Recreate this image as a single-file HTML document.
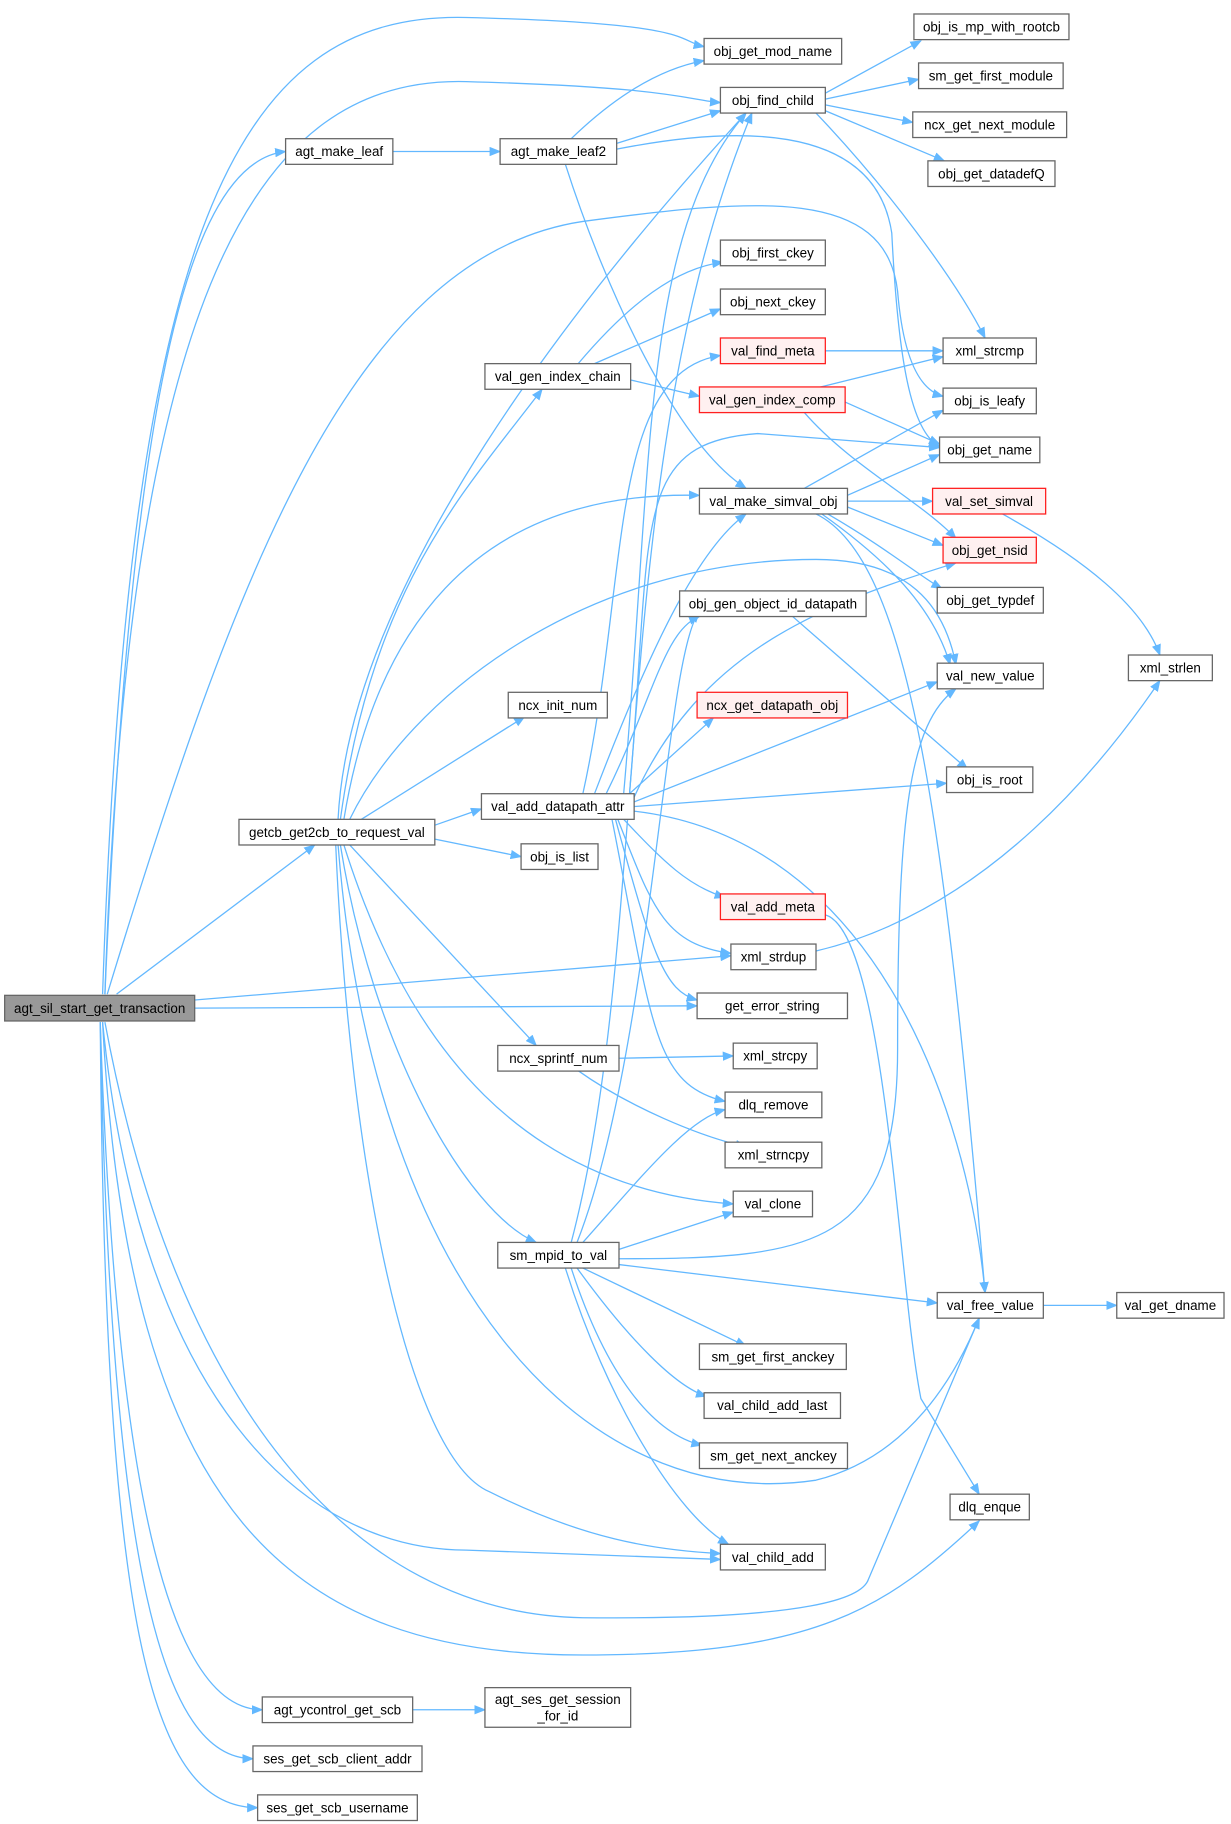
<!DOCTYPE html>
<html><head><meta charset="utf-8"><style>
html,body{margin:0;padding:0;background:#fff;}
svg{display:block;}
text{font-family:"Liberation Sans",Arial,sans-serif;font-size:11.5px;fill:#000;text-anchor:middle;}
.e{fill:none;stroke:#63b8ff;stroke-width:1.1;marker-end:url(#a);}
.n{fill:#fff;stroke:#666;stroke-width:1.1;}
.r{fill:#fff0f0;stroke:#ff2020;stroke-width:1.1;}
.g{fill:#999;stroke:#666;stroke-width:1.1;}
</style></head><body>
<svg width="1231" height="1824" viewBox="0 0 1056 1565" preserveAspectRatio="none">
<defs><marker id="a" markerWidth="10" markerHeight="8" refX="9" refY="4" orient="auto" markerUnits="userSpaceOnUse"><path d="M0,0 L10,4 L0,8 z" fill="#63b8ff"/></marker></defs>
<g>
<path class="e" d="M88,853 C110,200 200,10 400,15 S580,35 604,40"/>
<path class="e" d="M90,853 C110,250 220,65 400,70 S590,86 618,88"/>
<path class="e" d="M90,853 C110,400 150,140 245,130"/>
<path class="e" d="M92,853 C200,500 300,220 500,190 C650,170 760,160 770,250 C775,310 790,335 809,340"/>
<path class="e" d="M100,853 L270,725"/>
<path class="e" d="M167,858 L627,820"/>
<path class="e" d="M167,865 L598,863"/>
<path class="e" d="M90,877 C150,1200 300,1385 500,1388 C700,1390 740,1370 745,1355 L840,1131"/>
<path class="e" d="M88,877 C120,1200 260,1330 400,1330 L618,1338"/>
<path class="e" d="M88,877 C110,1300 250,1420 500,1420 C700,1420 760,1380 840,1305"/>
<path class="e" d="M86,877 C100,1300 150,1467 225,1467"/>
<path class="e" d="M86,877 C95,1350 140,1509 217,1509"/>
<path class="e" d="M86,877 C90,1400 130,1551 221,1551"/>
<path class="e" d="M290,703 C300,500 500,250 640,97"/>
<path class="e" d="M292,703 C320,500 400,420 465,334"/>
<path class="e" d="M295,703 C320,550 400,420 600,425"/>
<path class="e" d="M300,703 C350,600 500,480 700,480 C780,480 810,520 820,570"/>
<path class="e" d="M310,703 L450,615"/>
<path class="e" d="M373,708 L413,694"/>
<path class="e" d="M373,720 L447,735"/>
<path class="e" d="M300,725 L460,897"/>
<path class="e" d="M295,725 C350,900 450,1020 629,1033"/>
<path class="e" d="M292,725 C320,900 400,1040 460,1066"/>
<path class="e" d="M288,725 C300,1000 350,1250 420,1280 C500,1320 560,1330 618,1333"/>
<path class="e" d="M290,725 C320,1100 500,1300 700,1270 C780,1250 820,1180 840,1131"/>
<path class="e" d="M337,130 L429,130"/>
<path class="e" d="M490,119 C520,90 560,60 604,52"/>
<path class="e" d="M529,123 L618,95"/>
<path class="e" d="M529,128 C620,110 750,100 765,200 C770,300 780,370 806,383"/>
<path class="e" d="M485,141 C520,250 580,380 640,419"/>
<path class="e" d="M708,80 L790,35"/>
<path class="e" d="M708,85 L788,68"/>
<path class="e" d="M708,90 L783,105"/>
<path class="e" d="M708,95 L810,138"/>
<path class="e" d="M700,97 C760,160 820,240 845,290"/>
<path class="e" d="M496,312 C540,260 580,230 620,225"/>
<path class="e" d="M510,312 L618,265"/>
<path class="e" d="M541,326 L600,340"/>
<path class="e" d="M708,301 L809,301"/>
<path class="e" d="M700,333 L809,306"/>
<path class="e" d="M725,345 L806,381"/>
<path class="e" d="M690,354 C730,400 790,430 820,462"/>
<path class="e" d="M690,419 L809,352"/>
<path class="e" d="M727,425 L806,390"/>
<path class="e" d="M727,430 L800,430"/>
<path class="e" d="M727,435 L809,468"/>
<path class="e" d="M710,441 C760,470 790,495 808,505"/>
<path class="e" d="M705,441 C760,480 800,520 815,570"/>
<path class="e" d="M700,441 C780,480 810,700 845,1109"/>
<path class="e" d="M860,441 C930,480 980,520 995,562"/>
<path class="e" d="M680,529 L830,660"/>
<path class="e" d="M500,681 C540,500 520,320 618,305"/>
<path class="e" d="M510,681 C560,550 600,470 640,441"/>
<path class="e" d="M520,681 C560,600 570,540 600,529"/>
<path class="e" d="M540,681 L612,616"/>
<path class="e" d="M544,684 C600,560 700,520 820,483"/>
<path class="e" d="M544,688 L804,585"/>
<path class="e" d="M544,692 L812,672"/>
<path class="e" d="M544,696 C750,720 830,950 845,1109"/>
<path class="e" d="M535,703 C570,740 590,760 622,770"/>
<path class="e" d="M530,703 C560,780 570,810 627,818"/>
<path class="e" d="M528,703 C560,820 570,850 598,858"/>
<path class="e" d="M525,703 C560,880 560,930 622,945"/>
<path class="e" d="M535,681 C560,400 550,200 640,97"/>
<path class="e" d="M540,681 C560,450 540,380 650,372 L806,384"/>
<path class="e" d="M700,816 C850,780 950,650 995,584"/>
<path class="e" d="M708,785 C760,800 770,1100 790,1200 L840,1282"/>
<path class="e" d="M531,908 L629,906"/>
<path class="e" d="M495,918 C540,950 600,975 640,984"/>
<path class="e" d="M490,1066 C560,800 520,400 645,97"/>
<path class="e" d="M495,1066 C560,900 570,560 600,525"/>
<path class="e" d="M500,1066 C550,1010 590,960 622,952"/>
<path class="e" d="M531,1072 L629,1040"/>
<path class="e" d="M531,1080 C700,1080 770,1070 770,900 C770,700 780,620 820,591"/>
<path class="e" d="M531,1085 L804,1118"/>
<path class="e" d="M500,1088 L640,1155"/>
<path class="e" d="M495,1088 C540,1150 580,1190 606,1198"/>
<path class="e" d="M490,1088 C520,1180 560,1230 602,1240"/>
<path class="e" d="M485,1088 C520,1200 580,1300 625,1325"/>
<path class="e" d="M895,1120 L958,1120"/>
<path class="e" d="M354,1467 L416,1467"/>
</g>
<g>
<rect class="g" x="4" y="854" width="163" height="22"/><text x="85.5" y="869">agt_sil_start_get_transaction</text>
<rect class="n" x="604" y="33" width="118" height="22"/><text x="663" y="48">obj_get_mod_name</text>
<rect class="n" x="618" y="75" width="90" height="22"/><text x="663" y="90">obj_find_child</text>
<rect class="n" x="784" y="12" width="133" height="22"/><text x="850.5" y="27">obj_is_mp_with_rootcb</text>
<rect class="n" x="788" y="54" width="124" height="22"/><text x="850" y="69">sm_get_first_module</text>
<rect class="n" x="783" y="96" width="132" height="22"/><text x="849" y="111">ncx_get_next_module</text>
<rect class="n" x="796" y="138" width="109" height="22"/><text x="850.5" y="153">obj_get_datadefQ</text>
<rect class="n" x="245" y="119" width="92" height="22"/><text x="291" y="134">agt_make_leaf</text>
<rect class="n" x="429" y="119" width="100" height="22"/><text x="479" y="134">agt_make_leaf2</text>
<rect class="n" x="618" y="206" width="90" height="22"/><text x="663" y="221">obj_first_ckey</text>
<rect class="n" x="618" y="248" width="90" height="22"/><text x="663" y="263">obj_next_ckey</text>
<rect class="r" x="618" y="290" width="90" height="22"/><text x="663" y="305">val_find_meta</text>
<rect class="n" x="809" y="290" width="80" height="22"/><text x="849" y="305">xml_strcmp</text>
<rect class="n" x="416" y="312" width="125" height="22"/><text x="478.5" y="327">val_gen_index_chain</text>
<rect class="r" x="600" y="332" width="125" height="22"/><text x="662.5" y="347">val_gen_index_comp</text>
<rect class="n" x="809" y="333" width="80" height="22"/><text x="849" y="348">obj_is_leafy</text>
<rect class="n" x="806" y="375" width="86" height="22"/><text x="849" y="390">obj_get_name</text>
<rect class="n" x="600" y="419" width="127" height="22"/><text x="663.5" y="434">val_make_simval_obj</text>
<rect class="r" x="800" y="419" width="97" height="22"/><text x="848.5" y="434">val_set_simval</text>
<rect class="r" x="809" y="461" width="80" height="22"/><text x="849" y="476">obj_get_nsid</text>
<rect class="n" x="804" y="504" width="91" height="22"/><text x="849.5" y="519">obj_get_typdef</text>
<rect class="n" x="583" y="507" width="160" height="22"/><text x="663" y="522">obj_gen_object_id_datapath</text>
<rect class="n" x="804" y="569" width="91" height="22"/><text x="849.5" y="584">val_new_value</text>
<rect class="n" x="968" y="562" width="72" height="22"/><text x="1004" y="577">xml_strlen</text>
<rect class="n" x="436" y="594" width="85" height="22"/><text x="478.5" y="609">ncx_init_num</text>
<rect class="r" x="598" y="594" width="129" height="22"/><text x="662.5" y="609">ncx_get_datapath_obj</text>
<rect class="n" x="812" y="658" width="74" height="22"/><text x="849" y="673">obj_is_root</text>
<rect class="n" x="205" y="703" width="168" height="22"/><text x="289" y="718">getcb_get2cb_to_request_val</text>
<rect class="n" x="413" y="681" width="131" height="22"/><text x="478.5" y="696">val_add_datapath_attr</text>
<rect class="n" x="447" y="724" width="66" height="22"/><text x="480" y="739">obj_is_list</text>
<rect class="r" x="618" y="767" width="90" height="22"/><text x="663" y="782">val_add_meta</text>
<rect class="n" x="627" y="810" width="73" height="22"/><text x="663.5" y="825">xml_strdup</text>
<rect class="n" x="598" y="852" width="129" height="22"/><text x="662.5" y="867">get_error_string</text>
<rect class="n" x="427" y="897" width="104" height="22"/><text x="479" y="912">ncx_sprintf_num</text>
<rect class="n" x="629" y="895" width="72" height="22"/><text x="665" y="910">xml_strcpy</text>
<rect class="n" x="622" y="937" width="83" height="22"/><text x="663.5" y="952">dlq_remove</text>
<rect class="n" x="622" y="980" width="83" height="22"/><text x="663.5" y="995">xml_strncpy</text>
<rect class="n" x="629" y="1022" width="68" height="22"/><text x="663" y="1037">val_clone</text>
<rect class="n" x="427" y="1066" width="104" height="22"/><text x="479" y="1081">sm_mpid_to_val</text>
<rect class="n" x="804" y="1109" width="91" height="22"/><text x="849.5" y="1124">val_free_value</text>
<rect class="n" x="958" y="1109" width="92" height="22"/><text x="1004" y="1124">val_get_dname</text>
<rect class="n" x="600" y="1153" width="126" height="22"/><text x="663" y="1168">sm_get_first_anckey</text>
<rect class="n" x="604" y="1195" width="117" height="22"/><text x="662.5" y="1210">val_child_add_last</text>
<rect class="n" x="600" y="1238" width="127" height="22"/><text x="663.5" y="1253">sm_get_next_anckey</text>
<rect class="n" x="815" y="1282" width="68" height="22"/><text x="849" y="1297">dlq_enque</text>
<rect class="n" x="618" y="1325" width="90" height="22"/><text x="663" y="1340">val_child_add</text>
<rect class="n" x="225" y="1456" width="129" height="22"/><text x="289.5" y="1471">agt_ycontrol_get_scb</text>
<rect class="n" x="416" y="1448" width="125" height="34"/><text x="478.5" y="1462">agt_ses_get_session</text><text x="478.5" y="1476">_for_id</text>
<rect class="n" x="217" y="1498" width="145" height="22"/><text x="289.5" y="1513">ses_get_scb_client_addr</text>
<rect class="n" x="221" y="1540" width="137" height="22"/><text x="289.5" y="1555">ses_get_scb_username</text>
</g>
</svg>
</body></html>
